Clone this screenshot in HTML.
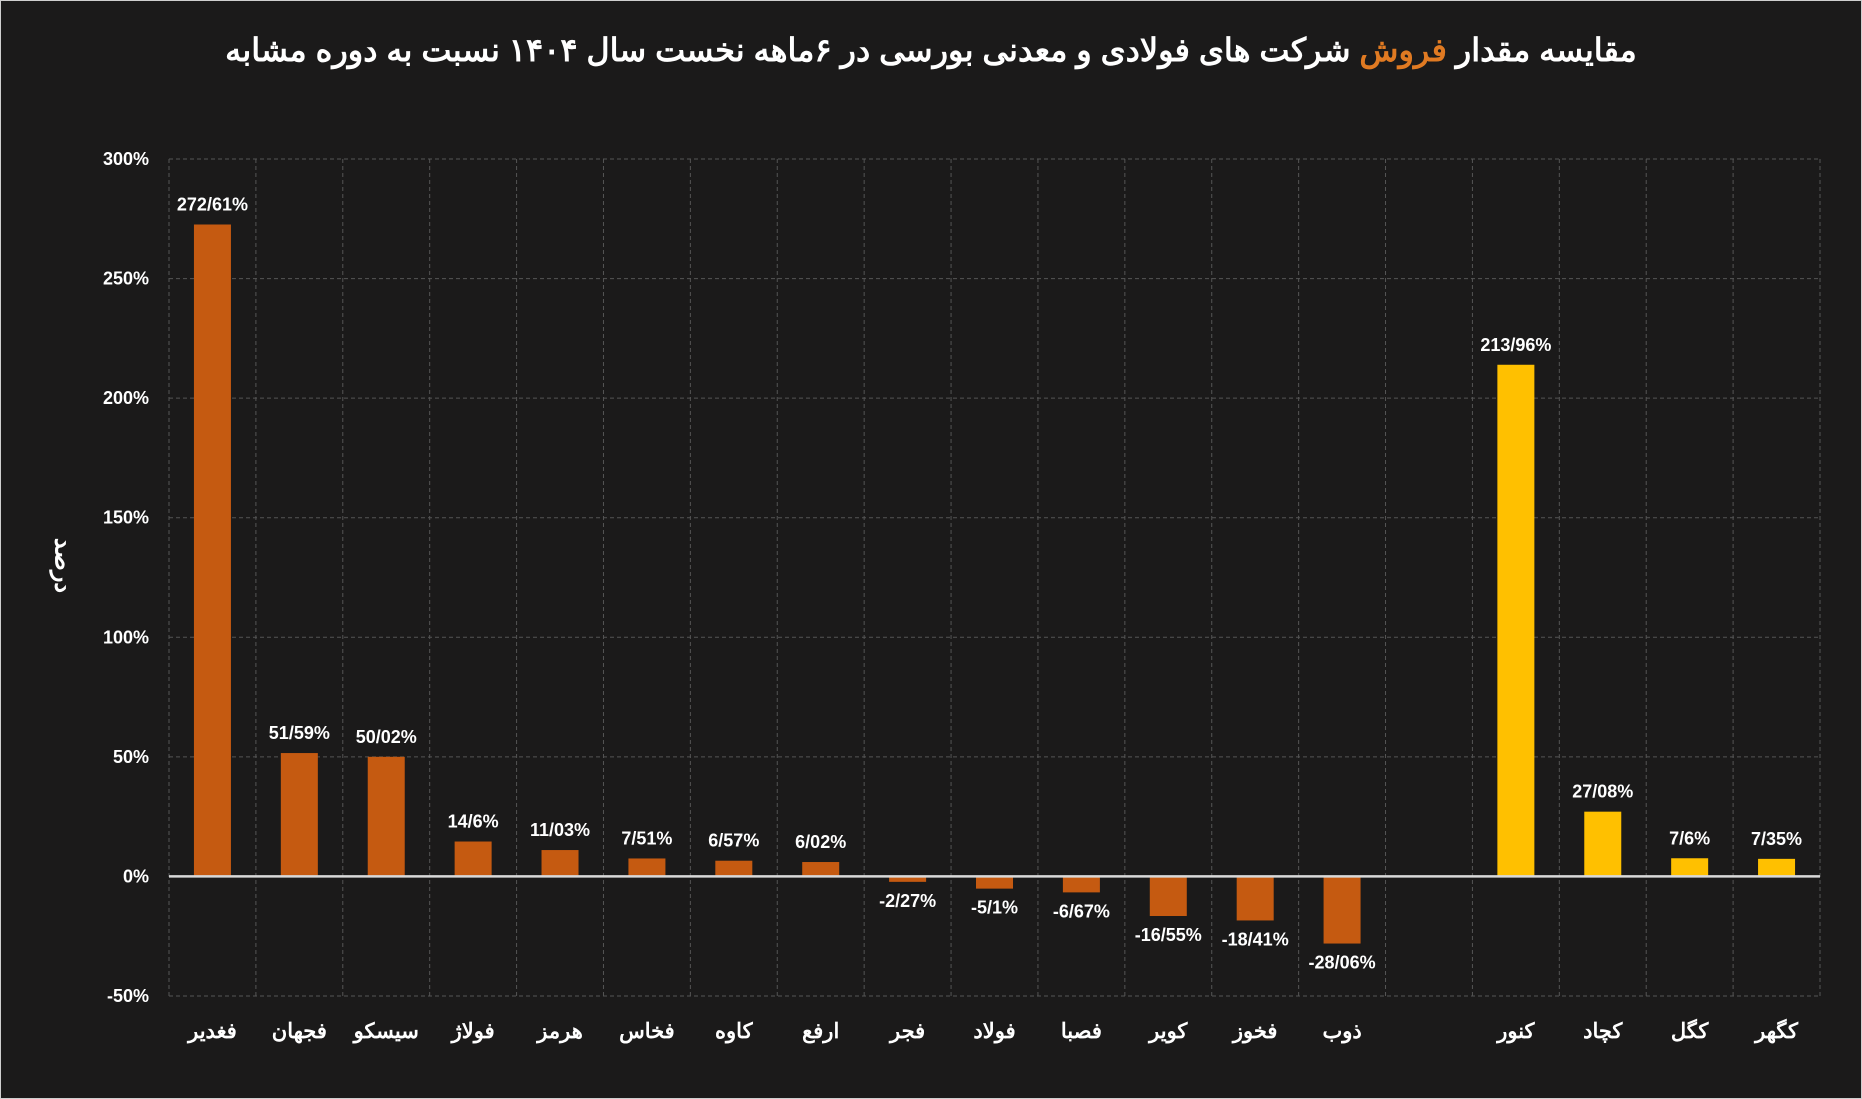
<!DOCTYPE html>
<html><head><meta charset="utf-8"><style>
html,body{margin:0;padding:0;background:#1b1a1a;}
#wrap{position:relative;width:1860px;height:1097px;border:1px solid #cfcfcf;background:#1b1a1a;overflow:hidden;}
#title{position:absolute;left:0;top:30px;width:1860px;text-align:center;color:#fff;font:bold 32px "Liberation Sans","Noto Sans CJK SC",sans-serif;direction:rtl;}
#title span{color:#e07a22;}
#ytitle{position:absolute;left:22px;top:550px;width:80px;text-align:center;color:#fff;font:bold 24px "Liberation Sans","Noto Sans CJK SC",sans-serif;direction:rtl;transform:rotate(90deg);transform-origin:center center;}
</style></head><body>
<div id="wrap">
<div id="title">مقایسه مقدار <span>فروش</span> شرکت های فولادی و معدنی بورسی در ۶ماهه نخست سال ۱۴۰۴ نسبت به دوره مشابه</div>
<svg id="chart" width="1862" height="1099" style="position:absolute;left:-1px;top:-1px"></svg>
<div id="ytitle">درصد</div>
</div>
<script>
const categories=["فغدیر","فجهان","سیسکو","فولاژ","هرمز","فخاس","کاوه","ارفع","فجر","فولاد","فصبا","کویر","فخوز","ذوب","","کنور","کچاد","کگل","کگهر"];
const values=[272.61,51.59,50.02,14.6,11.03,7.51,6.57,6.02,-2.27,-5.1,-6.67,-16.55,-18.41,-28.06,null,213.96,27.08,7.6,7.35];
const valueLabels=["272/61%","51/59%","50/02%","14/6%","11/03%","7/51%","6/57%","6/02%","-2/27%","-5/1%","-6/67%","-16/55%","-18/41%","-28/06%","","213/96%","27/08%","7/6%","7/35%"];
const groups=["a","a","a","a","a","a","a","a","a","a","a","a","a","a","","b","b","b","b"];
const yTicks=[-50,0,50,100,150,200,250,300];
const yTickLabels=["-50%","0%","50%","100%","150%","200%","250%","300%"];

const NS="http://www.w3.org/2000/svg";
const svg=document.getElementById('chart');
const X0=169,X1=1820,Y0=159,Y1=996,YMIN=-50,YMAX=300;
const slot=(X1-X0)/categories.length;
const y=v=>Y1-(v-YMIN)/(YMAX-YMIN)*(Y1-Y0);
const xc=i=>X0+slot*(i+0.5);
function mk(t,a){const e=document.createElementNS(NS,t);for(const k in a)e.setAttribute(k,a[k]);svg.appendChild(e);return e;}
const F='"Liberation Sans","Noto Sans CJK SC",sans-serif';
yTicks.forEach((t,i)=>{
  if(t!==0){const g=mk('line',{x1:X0,x2:X1,y1:y(t),y2:y(t),stroke:'#555',"stroke-width":1,"stroke-dasharray":"4,3"});
  
  }
  const l=mk('text',{x:149,y:y(t)+6,fill:'#fff',"font-family":F,"font-size":18,"font-weight":"bold","text-anchor":"end"});
  l.textContent=yTickLabels[i];
  
  
});
for(let i=0;i<=categories.length;i++){
  const g=mk('line',{x1:X0+slot*i,x2:X0+slot*i,y1:Y0,y2:Y1,stroke:'#555',"stroke-width":1,"stroke-dasharray":"4,3"});
  
  
}
const bw=37;
categories.forEach((c,i)=>{
  const v=values[i];
  if(v!==null){
    const top=y(Math.max(v,0)),bot=y(Math.min(v,0));
    const b=mk('rect',{x:xc(i)-bw/2,y:top,width:bw,height:bot-top,fill:groups[i]==='a'?'#c55a11':'#ffc000'});
    
    
    const ly=v>=0?top-14:bot+25;
    const t=mk('text',{x:xc(i),y:ly,fill:'#fff',"font-family":F,"font-size":18,"font-weight":"bold","text-anchor":"middle"});
    t.textContent=valueLabels[i];
    
    
  }
  const cl=mk('text',{x:xc(i),y:1038,fill:'#fff',"font-family":F,"font-size":21,"font-weight":"bold","text-anchor":"middle"});
  cl.textContent=c;
  
  
});
const z=mk('line',{x1:X0,x2:X1,y1:y(0),y2:y(0),stroke:'#d9d9d9',"stroke-width":2.5});


</script>
</body></html>
